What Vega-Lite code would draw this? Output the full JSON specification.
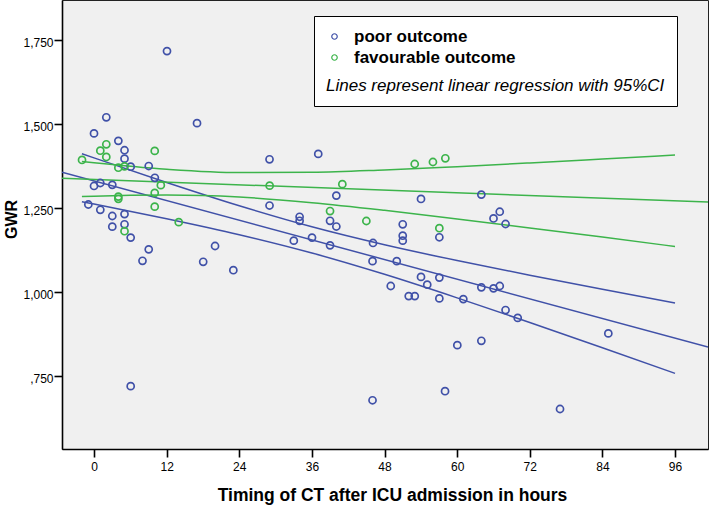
{
  "$schema": "https://vega.github.io/schema/vega-lite/v6.json",
  "width": 646,
  "height": 449,
  "autosize": {"type": "none"},
  "padding": {"left": 62, "top": 0, "right": 4, "bottom": 57},
  "datasets": {
    "pts": [
      {"hours": -0.94, "gwr": 1.2595, "outcome": "poor outcome"},
      {"hours": 0, "gwr": 1.471, "outcome": "poor outcome"},
      {"hours": 0, "gwr": 1.3146, "outcome": "poor outcome"},
      {"hours": 1.04, "gwr": 1.3235, "outcome": "poor outcome"},
      {"hours": 1.04, "gwr": 1.2438, "outcome": "poor outcome"},
      {"hours": 2.03, "gwr": 1.519, "outcome": "poor outcome"},
      {"hours": 3.02, "gwr": 1.318, "outcome": "poor outcome"},
      {"hours": 3.02, "gwr": 1.2253, "outcome": "poor outcome"},
      {"hours": 3.02, "gwr": 1.1935, "outcome": "poor outcome"},
      {"hours": 4.02, "gwr": 1.449, "outcome": "poor outcome"},
      {"hours": 5.04, "gwr": 1.421, "outcome": "poor outcome"},
      {"hours": 5.04, "gwr": 1.396, "outcome": "poor outcome"},
      {"hours": 5.04, "gwr": 1.231, "outcome": "poor outcome"},
      {"hours": 5.04, "gwr": 1.2006, "outcome": "poor outcome"},
      {"hours": 6.06, "gwr": 1.372, "outcome": "poor outcome"},
      {"hours": 6.06, "gwr": 1.161, "outcome": "poor outcome"},
      {"hours": 6.06, "gwr": 0.719, "outcome": "poor outcome"},
      {"hours": 8.01, "gwr": 1.092, "outcome": "poor outcome"},
      {"hours": 9.04, "gwr": 1.374, "outcome": "poor outcome"},
      {"hours": 9.04, "gwr": 1.126, "outcome": "poor outcome"},
      {"hours": 10.05, "gwr": 1.339, "outcome": "poor outcome"},
      {"hours": 12.06, "gwr": 1.716, "outcome": "poor outcome"},
      {"hours": 17.02, "gwr": 1.5015, "outcome": "poor outcome"},
      {"hours": 18.04, "gwr": 1.089, "outcome": "poor outcome"},
      {"hours": 20.0, "gwr": 1.136, "outcome": "poor outcome"},
      {"hours": 23.02, "gwr": 1.064, "outcome": "poor outcome"},
      {"hours": 29.0, "gwr": 1.394, "outcome": "poor outcome"},
      {"hours": 29.0, "gwr": 1.2565, "outcome": "poor outcome"},
      {"hours": 33.01, "gwr": 1.152, "outcome": "poor outcome"},
      {"hours": 33.97, "gwr": 1.223, "outcome": "poor outcome"},
      {"hours": 33.97, "gwr": 1.211, "outcome": "poor outcome"},
      {"hours": 36.02, "gwr": 1.161, "outcome": "poor outcome"},
      {"hours": 37.05, "gwr": 1.41, "outcome": "poor outcome"},
      {"hours": 39.0, "gwr": 1.211, "outcome": "poor outcome"},
      {"hours": 39.0, "gwr": 1.138, "outcome": "poor outcome"},
      {"hours": 40.04, "gwr": 1.286, "outcome": "poor outcome"},
      {"hours": 40.04, "gwr": 1.194, "outcome": "poor outcome"},
      {"hours": 46.02, "gwr": 1.091, "outcome": "poor outcome"},
      {"hours": 46.02, "gwr": 0.677, "outcome": "poor outcome"},
      {"hours": 46.1, "gwr": 1.145, "outcome": "poor outcome"},
      {"hours": 49.03, "gwr": 1.017, "outcome": "poor outcome"},
      {"hours": 50.02, "gwr": 1.091, "outcome": "poor outcome"},
      {"hours": 51.01, "gwr": 1.2006, "outcome": "poor outcome"},
      {"hours": 51.01, "gwr": 1.1667, "outcome": "poor outcome"},
      {"hours": 51.01, "gwr": 1.152, "outcome": "poor outcome"},
      {"hours": 52.0, "gwr": 0.987, "outcome": "poor outcome"},
      {"hours": 53.0, "gwr": 0.987, "outcome": "poor outcome"},
      {"hours": 54.03, "gwr": 1.276, "outcome": "poor outcome"},
      {"hours": 54.03, "gwr": 1.044, "outcome": "poor outcome"},
      {"hours": 55.06, "gwr": 1.021, "outcome": "poor outcome"},
      {"hours": 57.06, "gwr": 1.162, "outcome": "poor outcome"},
      {"hours": 57.06, "gwr": 1.042, "outcome": "poor outcome"},
      {"hours": 57.06, "gwr": 0.98, "outcome": "poor outcome"},
      {"hours": 58.0, "gwr": 0.704, "outcome": "poor outcome"},
      {"hours": 60.03, "gwr": 0.841, "outcome": "poor outcome"},
      {"hours": 61.02, "gwr": 0.978, "outcome": "poor outcome"},
      {"hours": 64.0, "gwr": 1.289, "outcome": "poor outcome"},
      {"hours": 64.0, "gwr": 1.013, "outcome": "poor outcome"},
      {"hours": 64.0, "gwr": 0.854, "outcome": "poor outcome"},
      {"hours": 66.01, "gwr": 1.218, "outcome": "poor outcome"},
      {"hours": 66.01, "gwr": 1.01, "outcome": "poor outcome"},
      {"hours": 67.04, "gwr": 1.238, "outcome": "poor outcome"},
      {"hours": 67.04, "gwr": 1.017, "outcome": "poor outcome"},
      {"hours": 68.0, "gwr": 1.2015, "outcome": "poor outcome"},
      {"hours": 68.0, "gwr": 0.9455, "outcome": "poor outcome"},
      {"hours": 70.01, "gwr": 0.922, "outcome": "poor outcome"},
      {"hours": 77.0, "gwr": 0.651, "outcome": "poor outcome"},
      {"hours": 84.98, "gwr": 0.876, "outcome": "poor outcome"},
      {"hours": -1.98, "gwr": 1.392, "outcome": "favourable outcome"},
      {"hours": 1.04, "gwr": 1.4196, "outcome": "favourable outcome"},
      {"hours": 2.03, "gwr": 1.4387, "outcome": "favourable outcome"},
      {"hours": 2.03, "gwr": 1.401, "outcome": "favourable outcome"},
      {"hours": 4.02, "gwr": 1.369, "outcome": "favourable outcome"},
      {"hours": 5.04, "gwr": 1.373, "outcome": "favourable outcome"},
      {"hours": 4.02, "gwr": 1.283, "outcome": "favourable outcome"},
      {"hours": 4.02, "gwr": 1.2765, "outcome": "favourable outcome"},
      {"hours": 5.04, "gwr": 1.18, "outcome": "favourable outcome"},
      {"hours": 10.03, "gwr": 1.419, "outcome": "favourable outcome"},
      {"hours": 10.03, "gwr": 1.294, "outcome": "favourable outcome"},
      {"hours": 10.03, "gwr": 1.253, "outcome": "favourable outcome"},
      {"hours": 11.04, "gwr": 1.317, "outcome": "favourable outcome"},
      {"hours": 14.0, "gwr": 1.207, "outcome": "favourable outcome"},
      {"hours": 29.02, "gwr": 1.3155, "outcome": "favourable outcome"},
      {"hours": 39.0, "gwr": 1.24, "outcome": "favourable outcome"},
      {"hours": 41.03, "gwr": 1.32, "outcome": "favourable outcome"},
      {"hours": 45.0, "gwr": 1.2104, "outcome": "favourable outcome"},
      {"hours": 52.99, "gwr": 1.38, "outcome": "favourable outcome"},
      {"hours": 56.0, "gwr": 1.386, "outcome": "favourable outcome"},
      {"hours": 57.06, "gwr": 1.189, "outcome": "favourable outcome"},
      {"hours": 58.05, "gwr": 1.397, "outcome": "favourable outcome"}
    ],
    "fits": [
      {"outcome": "poor outcome", "line": "fit", "hours": -5.29, "gwr": 1.3554},
      {"outcome": "poor outcome", "line": "fit", "hours": 101.45, "gwr": 0.8352},
      {"outcome": "poor outcome", "line": "upper", "hours": -2, "gwr": 1.4106},
      {"outcome": "poor outcome", "line": "upper", "hours": 0, "gwr": 1.3982},
      {"outcome": "poor outcome", "line": "upper", "hours": 12, "gwr": 1.325},
      {"outcome": "poor outcome", "line": "upper", "hours": 24, "gwr": 1.2557},
      {"outcome": "poor outcome", "line": "upper", "hours": 36, "gwr": 1.1932},
      {"outcome": "poor outcome", "line": "upper", "hours": 48, "gwr": 1.1397},
      {"outcome": "poor outcome", "line": "upper", "hours": 60, "gwr": 1.0927},
      {"outcome": "poor outcome", "line": "upper", "hours": 72, "gwr": 1.0492},
      {"outcome": "poor outcome", "line": "upper", "hours": 84, "gwr": 1.0074},
      {"outcome": "poor outcome", "line": "upper", "hours": 96, "gwr": 0.9665},
      {"outcome": "poor outcome", "line": "lower", "hours": -2, "gwr": 1.268},
      {"outcome": "poor outcome", "line": "lower", "hours": 0, "gwr": 1.261},
      {"outcome": "poor outcome", "line": "lower", "hours": 12, "gwr": 1.2172},
      {"outcome": "poor outcome", "line": "lower", "hours": 24, "gwr": 1.1697},
      {"outcome": "poor outcome", "line": "lower", "hours": 36, "gwr": 1.1152},
      {"outcome": "poor outcome", "line": "lower", "hours": 48, "gwr": 1.0517},
      {"outcome": "poor outcome", "line": "lower", "hours": 60, "gwr": 0.9817},
      {"outcome": "poor outcome", "line": "lower", "hours": 72, "gwr": 0.9082},
      {"outcome": "poor outcome", "line": "lower", "hours": 84, "gwr": 0.8332},
      {"outcome": "poor outcome", "line": "lower", "hours": 96, "gwr": 0.7571},
      {"outcome": "favourable outcome", "line": "fit", "hours": -5.29, "gwr": 1.3375},
      {"outcome": "favourable outcome", "line": "fit", "hours": 101.45, "gwr": 1.267},
      {"outcome": "favourable outcome", "line": "upper", "hours": -2, "gwr": 1.3875},
      {"outcome": "favourable outcome", "line": "upper", "hours": 0, "gwr": 1.3837},
      {"outcome": "favourable outcome", "line": "upper", "hours": 12, "gwr": 1.3645},
      {"outcome": "favourable outcome", "line": "upper", "hours": 24, "gwr": 1.3546},
      {"outcome": "favourable outcome", "line": "upper", "hours": 36, "gwr": 1.3554},
      {"outcome": "favourable outcome", "line": "upper", "hours": 48, "gwr": 1.3624},
      {"outcome": "favourable outcome", "line": "upper", "hours": 60, "gwr": 1.3722},
      {"outcome": "favourable outcome", "line": "upper", "hours": 72, "gwr": 1.3831},
      {"outcome": "favourable outcome", "line": "upper", "hours": 84, "gwr": 1.3947},
      {"outcome": "favourable outcome", "line": "upper", "hours": 96, "gwr": 1.4066},
      {"outcome": "favourable outcome", "line": "lower", "hours": -2, "gwr": 1.2831},
      {"outcome": "favourable outcome", "line": "lower", "hours": 0, "gwr": 1.2843},
      {"outcome": "favourable outcome", "line": "lower", "hours": 12, "gwr": 1.2877},
      {"outcome": "favourable outcome", "line": "lower", "hours": 24, "gwr": 1.2818},
      {"outcome": "favourable outcome", "line": "lower", "hours": 36, "gwr": 1.265},
      {"outcome": "favourable outcome", "line": "lower", "hours": 48, "gwr": 1.2422},
      {"outcome": "favourable outcome", "line": "lower", "hours": 60, "gwr": 1.2166},
      {"outcome": "favourable outcome", "line": "lower", "hours": 72, "gwr": 1.1899},
      {"outcome": "favourable outcome", "line": "lower", "hours": 84, "gwr": 1.1625},
      {"outcome": "favourable outcome", "line": "lower", "hours": 96, "gwr": 1.1346}
    ]
  },
  "encoding": {
    "x": {
      "field": "hours",
      "type": "quantitative",
      "scale": {"domain": [-5.29, 101.45], "nice": false, "zero": false},
      "axis": {
        "title": "Timing of CT after ICU admission in hours",
        "values": [0, 12, 24, 36, 48, 60, 72, 84, 96],
        "labelPadding": 4,
        "titleX": 330,
        "titleY": 51,
        "titleFontSize": 17.5,
        "titleBaseline": "alphabetic",
        "titleAnchor": null
      }
    },
    "y": {
      "field": "gwr",
      "type": "quantitative",
      "scale": {"domain": [0.532, 1.868], "nice": false, "zero": false},
      "axis": {
        "title": "GWR",
        "values": [0.75, 1, 1.25, 1.5, 1.75],
        "labelExpr": "replace(replace(format(datum.value, '.3f'), '0.', ','), '.', ',')",
        "labelPadding": 1,
        "labelOffset": 3,
        "titleX": -51,
        "titleY": 219,
        "titleBaseline": "middle",
        "titleAngle": -90,
        "titleAnchor": null
      }
    }
  },
  "layer": [
    {
      "data": {"name": "fits"},
      "transform": [{"filter": "datum.outcome === 'poor outcome'"}],
      "mark": {"type": "line", "strokeWidth": 1.5, "clip": true, "interpolate": "monotone", "color": "#4051a8"},
      "encoding": {"detail": {"field": "line"}}
    },
    {
      "data": {"name": "fits"},
      "transform": [{"filter": "datum.outcome === 'favourable outcome'"}],
      "mark": {"type": "line", "strokeWidth": 1.5, "clip": true, "interpolate": "monotone", "color": "#3cb44b"},
      "encoding": {"detail": {"field": "line"}}
    },
    {
      "data": {"name": "pts"},
      "mark": {"type": "point", "shape": "circle", "filled": false, "size": 50, "strokeWidth": 1.7, "opacity": 1},
      "encoding": {
        "color": {
          "field": "outcome",
          "type": "nominal",
          "scale": {
            "domain": ["poor outcome", "favourable outcome"],
            "range": ["#4051a8", "#3cb44b"]
          },
          "legend": {
            "orient": "none",
            "legendX": 252,
            "legendY": 16,
            "title": "Lines represent linear regression with 95%CI",
            "titleOrient": "bottom",
            "titleFontStyle": "italic",
            "titleFontWeight": "normal",
            "titleFontSize": 17,
            "titleColor": "#000",
            "titlePadding": 12,
            "titleLimit": 420,
            "labelFontSize": 17,
            "labelFontWeight": "bold",
            "labelColor": "#000",
            "labelOffset": 11,
            "labelLimit": 320,
            "symbolSize": 30,
            "symbolStrokeWidth": 1.2,
            "symbolType": "circle",
            "rowPadding": 3,
            "padding": 12,
            "fillColor": "#ffffff",
            "strokeColor": "#000000",
            "cornerRadius": 0
          }
        }
      }
    }
  ],
  "config": {
    "font": "Liberation Sans",
    "background": "#ffffff",
    "view": {"fill": "#f0f0f0", "stroke": "#222222", "strokeWidth": 1},
    "axis": {
      "grid": false,
      "domainColor": "#000000",
      "domainWidth": 1.6,
      "tickColor": "#000000",
      "tickWidth": 1.6,
      "tickSize": 8,
      "labelColor": "#000000",
      "labelFont": "Liberation Sans",
      "labelFontSize": 12,
      "titleColor": "#000000",
      "titleFont": "Liberation Sans",
      "titleFontSize": 16,
      "titleFontWeight": "bold"
    }
  }
}
